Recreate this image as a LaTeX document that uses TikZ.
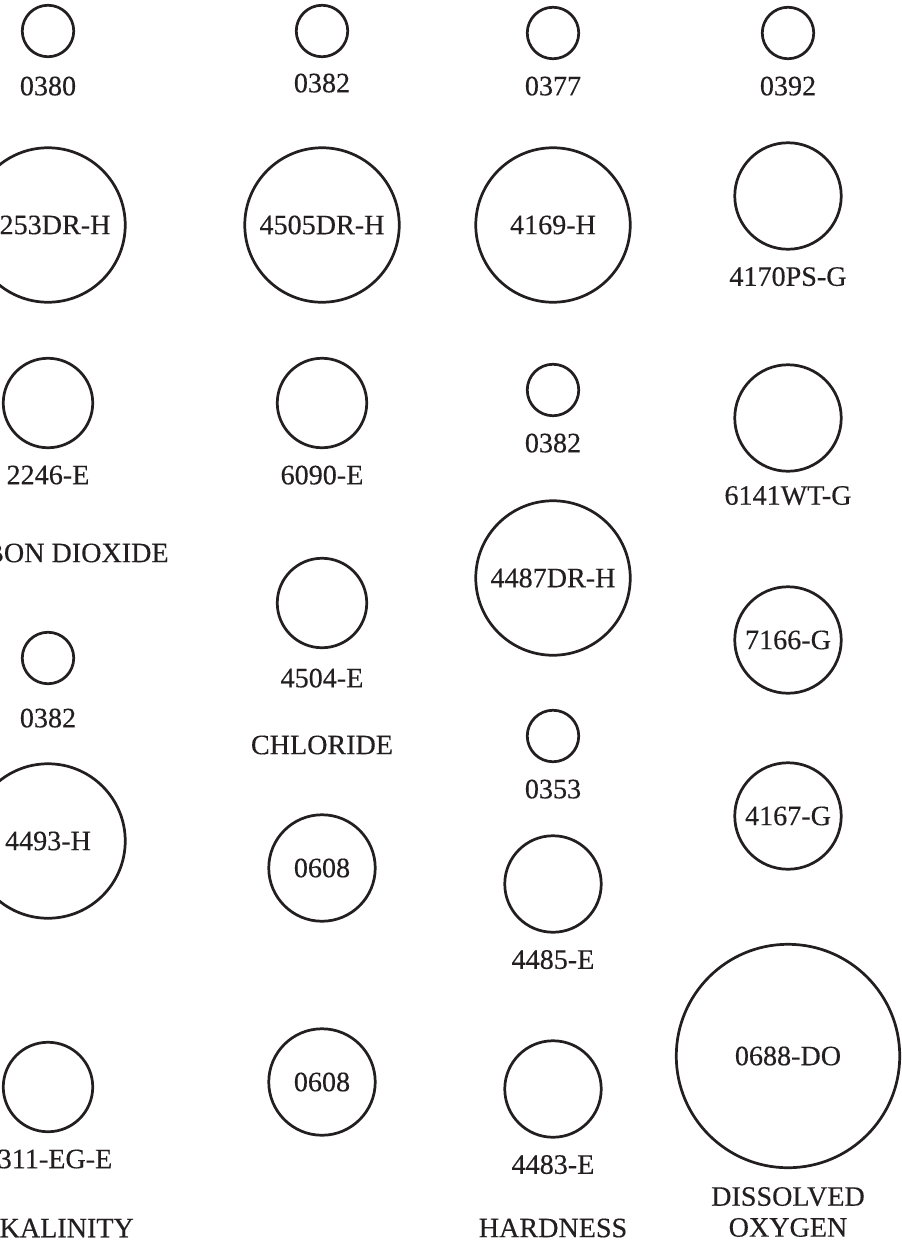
\documentclass[tikz,border=0pt]{standalone}
\usepackage{fontspec}
\setmainfont{Liberation Serif}[UprightFeatures={FakeBold=0.35}]
\usetikzlibrary{positioning}
\definecolor{ink}{HTML}{231F20}

\begin{document}
\begin{tikzpicture}[
    x=0.02cm, y=-0.02cm,
    node distance=0.33cm,
    every node/.style={font=\fontsize{16}{17.6}\selectfont, text=ink},
    tab/.style={circle, draw=ink, line width=1.55pt, inner sep=0pt},
    tabS/.style={tab, minimum size=1.03cm},
    tabM/.style={tab, minimum size=1.79cm},
    tabE/.style={tab, minimum size=1.93cm},
    tabG/.style={tab, minimum size=2.13cm},
    tabH/.style={tab, minimum size=3.09cm},
    tabDO/.style={tab, minimum size=4.47cm},
    code/.style={inner sep=0pt, outer sep=0pt},
    group/.style={inner sep=0pt, align=center}
]
\useasboundingbox (0,0) rectangle (902,1244);
\clip (0,0) rectangle (902,1244);

% carbon dioxide and alkalinity
\node[tabS] (co2a) at (48,31) {};
\node[code, below=0.37cm of co2a] (co2aL) {0380};
\node[tabH] (co2b) at (48,225) {4253DR-H};
\node[tabM] (co2c) at (48,403) {};
\node[code, below=of co2c] (co2cL) {2246-E};
\node[group] (co2T) at (48,553) {CARBON DIOXIDE};
\node[tabS] (alka) at (48,658) {};
\node[code, below=0.47cm of alka] (alkaL) {0382};
\node[tabH] (alkb) at (48,841) {4493-H};
\node[tabM] (alkc) at (48,1087) {};
\node[code, below=of alkc] (alkcL) {2311-EG-E};
\node[group] (alkT) at (48,1228) {ALKALINITY};

% chloride
\node[tabS] (cla) at (322,31) {};
\node[code, below=0.31cm of cla] (claL) {0382};
\node[tabH] (clb) at (322,225) {4505DR-H};
\node[tabM] (clc) at (322,403) {};
\node[code, below=of clc] (clcL) {6090-E};
\node[tabM] (cld) at (322,603) {};
\node[code, below=0.39cm of cld] (cldL) {4504-E};
\node[group] (clT) at (322,745) {CHLORIDE};
\node[tabG] (cle) at (322,868) {0608};
\node[tabG] (clf) at (322,1082) {0608};

% hardness
\node[tabS] (hda) at (553,33) {};
\node[code, below=of hda] (hdaL) {0377};
\node[tabH] (hdb) at (553,225) {4169-H};
\node[tabS] (hdc) at (553,390) {};
\node[code, below=of hdc] (hdcL) {0382};
\node[tabH] (hdd) at (553,578) {4487DR-H};
\node[tabS] (hde) at (553,736) {};
\node[code, below=of hde] (hdeL) {0353};
\node[tabE] (hdf) at (553,884) {};
\node[code, below=of hdf] (hdfL) {4485-E};
\node[tabE] (hdg) at (553,1089) {};
\node[code, below=of hdg] (hdgL) {4483-E};
\node[group] (hdT) at (553,1228) {HARDNESS};

% dissolved oxygen
\node[tabS] (doa) at (788,33) {};
\node[code, below=of doa] (doaL) {0392};
\node[tabG] (dob) at (788,196) {};
\node[code, below=of dob] (dobL) {4170PS-G};
\node[tabG] (doc) at (788,418) {};
\node[code, below=0.27cm of doc] (docL) {6141WT-G};
\node[tabG] (dod) at (788,640) {7166-G};
\node[tabG] (doe) at (788,816) {4167-G};
\node[tabDO] (dof) at (788,1056) {0688-DO};
\node[group] (doT) at (788,1212) {DISSOLVED\\OXYGEN};
\end{tikzpicture}
\end{document}
